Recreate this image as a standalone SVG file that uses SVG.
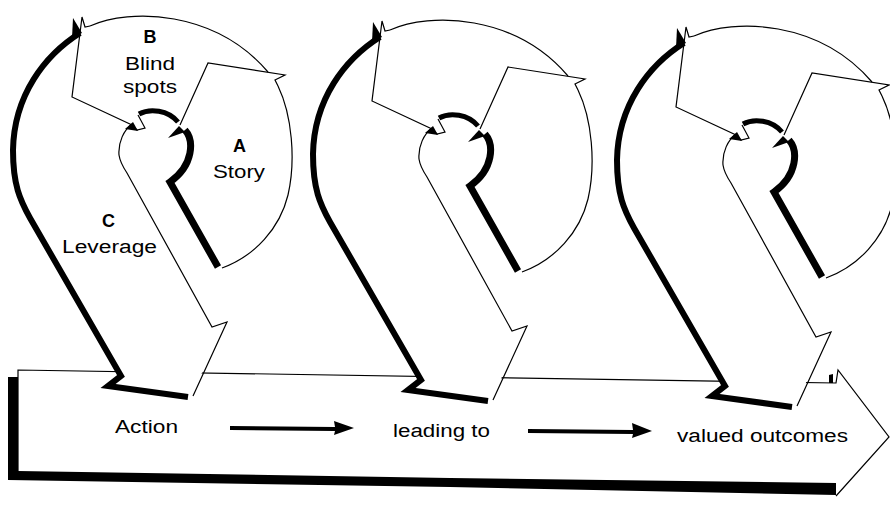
<svg xmlns="http://www.w3.org/2000/svg" xmlns:xlink="http://www.w3.org/1999/xlink" width="890" height="505" viewBox="0 0 890 505">
<style>
.thin{fill:none;stroke:#000;stroke-width:1.2;stroke-linejoin:miter}
.thick{fill:none;stroke:#000;stroke-width:6;stroke-linejoin:miter}
.thick2{fill:none;stroke:#000;stroke-width:5}
.thick3{fill:none;stroke:#000;stroke-width:7;stroke-linejoin:miter}
.ink{fill:#000;stroke:none}
.paper{fill:#fff;stroke:none}
text{font-family:"Liberation Sans",Arial,sans-serif;font-size:18px;fill:#000}
.key{font-weight:bold}
</style>
<defs>
<g id="loopShape">
  <path class="paper" d="M76,298 L122,377 L107,386 L190,397 L227,322 L212,327 L196,297 Z"/>
  <!-- big circle thin arcs -->
  <path class="thin" d="M90,26 C130,8 215,10 268,72"/>
  <path class="thin" d="M278,86 C292,115 296,160 288,195 C280,228 255,256 222,268"/>
  <!-- A arrow -->
  <path class="thin" d="M180,125 L208,63 L285,75 L275,80 L278,86"/>
  <!-- B arrow -->
  <path class="thin" d="M90,26 L85,27 L82,17 L80,33 L72,97 L132,125 L137,130 L145,128 L138,115"/>
  <path class="ink" d="M73,18 L82,33 L72,38 Z"/>
  <path class="ink" d="M125,129 L133,122 L138,131 Z"/>
  <path class="ink" d="M168,138 L179,126 L185,132 Z"/>
  <!-- keyhole left edge, stem and arrowhead right edge -->
  <path class="thin" d="M132,124 C124,130 118,142 119,155 C120,162 123,167 127,173 L212,327 L227,322 L193,396"/>
  <!-- thick shadow lines -->
  <path class="thick" d="M80,33 C45,55 14,95 13,150 C13,185 20,200 30,218 L121,376 L108,386 L188,397"/>
  <path class="thick2" d="M139,114 C150,108 168,110 178,122"/>
  <path class="thick3" d="M185,130 C194,140 194,165 170,182 L218,267"/>
</g>
</defs>

<g id="mainArrow">
  <path class="paper" d="M18,470 L18,370 L836,383 L838,370 L889,437 L836,496 L836,484 Z"/>
  <path class="ink" d="M8,377 L18,377 L18,471 L450,478 L836,483 L836,495 L450,487 L8,480 Z"/>
  <path class="thin" d="M18,471 L18,370 L836,383 L838,370 L889,437 L836,496"/>
  <path class="ink" d="M829,375 L833,374 L833,383 L829,383 Z"/>
</g>

<g id="loop1">
  <use xlink:href="#loopShape"/>
  <text class="key" x="143.5" y="43">B</text>
  <text x="125" y="70" textLength="50" lengthAdjust="spacingAndGlyphs">Blind</text>
  <text x="123" y="93" textLength="54" lengthAdjust="spacingAndGlyphs">spots</text>
  <text class="key" x="233" y="152">A</text>
  <text x="213" y="178" textLength="52" lengthAdjust="spacingAndGlyphs">Story</text>
  <text class="key" x="102" y="227">C</text>
  <text x="62" y="253" textLength="95" lengthAdjust="spacingAndGlyphs">Leverage</text>
</g>
<g id="loop2">
  <use xlink:href="#loopShape" transform="translate(300,4)"/>
</g>
<g id="loop3">
  <use xlink:href="#loopShape" transform="translate(604,10)"/>
</g>

<g id="connectors">
  <path class="ink" d="M230,426 L335,427 L334,421 L354,428 L334,435 L335,431 L230,430 Z"/>
  <path class="ink" d="M528,429 L633,430 L632,423 L652,431 L632,438 L633,434 L528,433 Z"/>
</g>

<g id="labels">
  <text x="115" y="433" textLength="63" lengthAdjust="spacingAndGlyphs">Action</text>
  <text x="393" y="437" textLength="97" lengthAdjust="spacingAndGlyphs">leading to</text>
  <text x="677" y="442" textLength="171" lengthAdjust="spacingAndGlyphs">valued outcomes</text>
</g>
</svg>
